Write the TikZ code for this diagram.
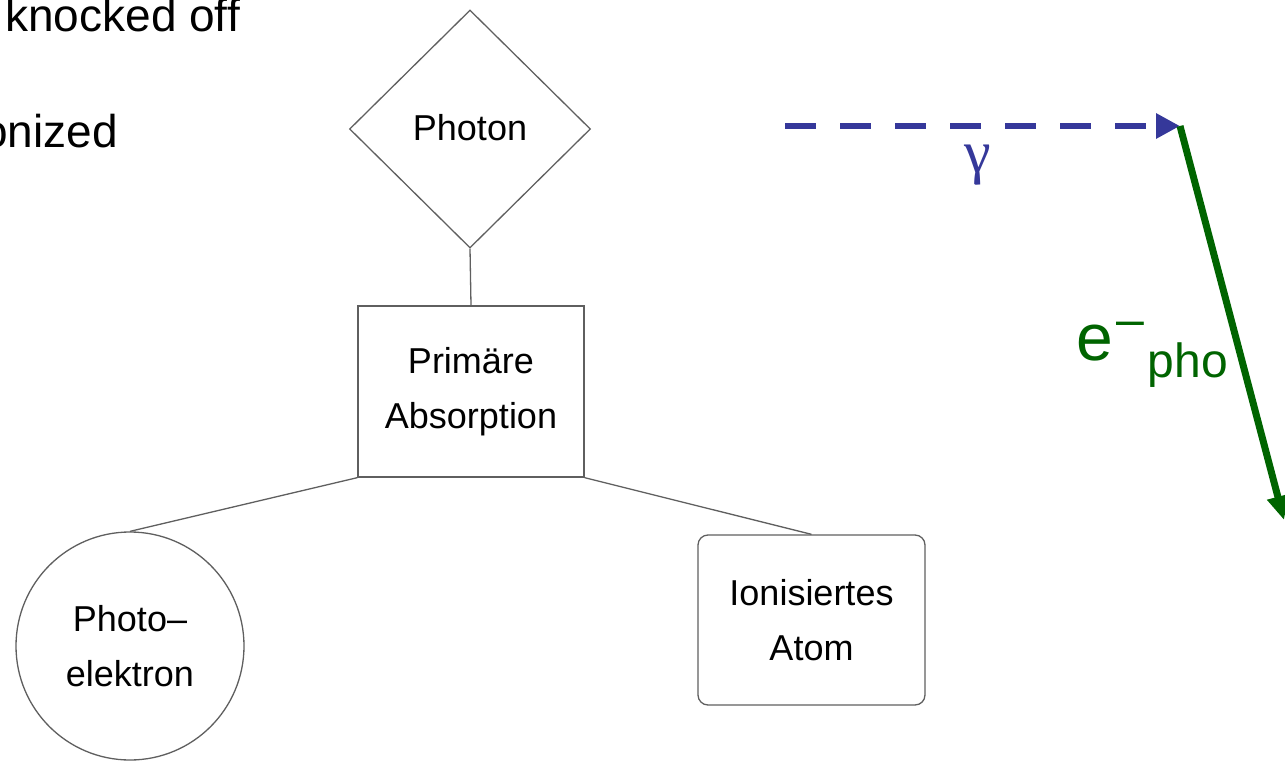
\documentclass[tikz,border=0pt]{standalone}
\usepackage{fontspec}
\setmainfont{Liberation Sans}
\newfontfamily\greekfont{Liberation Serif}
\usetikzlibrary{arrows.meta,shapes.geometric}

\definecolor{gammablue}{RGB}{53,56,154}
\definecolor{elecgreen}{RGB}{0,100,0}
\definecolor{linegray}{RGB}{95,95,95}

\begin{document}
\begin{tikzpicture}[
  x=1pt,y=-1pt,
  font=\fontsize{36}{55}\selectfont,
  box/.style={draw=linegray,line width=1.3pt,align=center,inner sep=0pt},
  diamondbox/.style={box,diamond,minimum width=241pt,minimum height=238pt},
  rectbox/.style={box,rectangle,minimum width=226pt,minimum height=171pt},
  roundbox/.style={box,rectangle,rounded corners=10pt,minimum width=227pt,minimum height=170pt},
  circlebox/.style={box,circle,minimum size=228pt},
  treeline/.style={draw=linegray,line width=1.3pt},
  photonflow/.style={draw=gammablue,line width=6pt,dash pattern=on 31pt off 24pt,-{Triangle[length=24pt,width=24pt]}},
  electronflow/.style={draw=elecgreen,line width=7pt,-{Triangle[length=24pt,width=21pt]}},
  slidetext/.style={font=\fontsize{46}{46}\selectfont,inner sep=0pt,anchor=base east}
]
\useasboundingbox (0,0) rectangle (1285,765);

% ===== Slide text (cut off at the left) =====
\node[slidetext] (knock) at (240,32) {knocked off};
\node[slidetext] (ion) at (118,147) {ionized};

% ===== Tree =====
\node[diamondbox] (photon) at (470,129) {\raisebox{4pt}{Photon}};
\node[rectbox] (absorb) at (471,391.5) {Primäre\\Absorption};
\node[circlebox] (elektron) at (130,646) {Photo--\\elektron};
\node[roundbox] (atom) at (811.5,620) {Ionisiertes\\Atom};

\draw[treeline] (photon.south) -- (absorb.north);
\draw[treeline] (absorb.south west) -- (elektron.north);
\draw[treeline] (absorb.south east) -- (atom.north);

% ===== Photoeffect sketch =====
\coordinate (gin) at (785,126);
\coordinate (hit) at (1180,126);
\coordinate (eout) at (1284,520);

\draw[photonflow] (gin) -- (hit);
\draw[electronflow] (hit) -- (eout);

\node[text=gammablue,font=\fontsize{60}{60}\greekfont,inner sep=0pt,anchor=base] (gamma) at (978,172) {γ};
\node[text=elecgreen,inner sep=0pt,anchor=base west] (elabel) at (1076,360)
  {\fontsize{66}{66}\selectfont e\hspace{4pt}\raisebox{24pt}{\fontsize{50}{50}\selectfont –}\hspace{3pt}\raisebox{-17pt}{\fontsize{48}{48}\selectfont pho}};

\end{tikzpicture}
\end{document}
